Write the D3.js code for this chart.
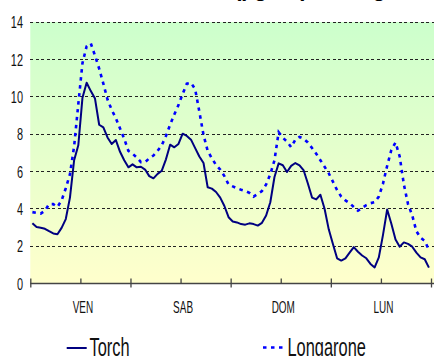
<!DOCTYPE html>
<html>
<head>
<meta charset="utf-8">
<script src="https://cdn.jsdelivr.net/npm/d3@7/dist/d3.min.js"></script>
<style>
  html, body { margin: 0; padding: 0; background: #fff; }
  svg { display: block; font-family: "Liberation Sans", Arial, sans-serif; }
</style>
</head>
<body>
<svg id="chart" width="434" height="356"></svg>
<script>
// Day labels (one per 24 h block) and value axis ticks
const days = ["VEN", "SAB", "DOM", "LUN"];
const yTicks = [0, 2, 4, 6, 8, 10, 12, 14];
const dayTicks = [0, 24, 48, 72, 96];
const halfDayTicks = [12, 36, 60, 84];

// Hourly values, 96 hours (4 days)
const torch = [
  3.22, 3.02, 2.98, 2.93, 2.80, 2.68, 2.64, 2.98, 3.45, 4.60, 6.60, 7.40,
  9.95, 10.75, 10.30, 9.90, 8.50, 8.36, 7.82, 7.47, 7.68, 7.05, 6.60, 6.22,
  6.38, 6.22, 6.25, 6.10, 5.75, 5.63, 5.87, 6.04, 6.65, 7.43, 7.29, 7.47,
  8.02, 7.90, 7.70, 7.25, 6.80, 6.45, 5.15, 5.08, 4.90, 4.60, 4.15, 3.55,
  3.32, 3.27, 3.18, 3.15, 3.22, 3.18, 3.10, 3.25, 3.64, 4.35, 5.70, 6.43,
  6.33, 5.97, 6.30, 6.45, 6.33, 6.05, 5.35, 4.60, 4.50, 4.75, 4.00, 2.90,
  2.12, 1.35, 1.23, 1.35, 1.65, 1.95, 1.70, 1.50, 1.35, 1.05, 0.86, 1.40,
  2.60, 3.96, 3.20, 2.35, 1.97, 2.20, 2.12, 1.97, 1.65, 1.40, 1.30, 0.85
];
const longarone = [
  3.82, 3.78, 3.74, 3.90, 4.25, 4.25, 4.10, 4.45, 5.10, 5.85, 7.35, 9.60,
  11.80, 12.70, 12.85, 12.20, 11.50, 10.70, 9.85, 9.30, 8.85, 8.30, 7.75, 7.10,
  6.95, 6.75, 6.50, 6.50, 6.70, 6.85, 7.10, 7.40, 7.90, 8.50, 9.05, 9.55,
  10.15, 10.70, 10.75, 10.40, 9.20, 7.95, 7.10, 6.70, 6.35, 6.10, 5.75, 5.30,
  5.20, 5.10, 5.02, 4.95, 4.85, 4.65, 4.80, 4.95, 5.30, 5.85, 6.60, 8.10,
  7.80, 7.60, 7.30, 7.70, 7.85, 7.75, 7.55, 7.25, 6.95, 6.60, 6.25, 5.90,
  5.45, 5.00, 4.65, 4.45, 4.30, 4.10, 3.90, 4.05, 4.20, 4.30, 4.35, 4.65,
  5.35, 6.30, 7.15, 7.55, 6.80, 5.30, 4.25, 3.65, 2.80, 2.45, 2.28, 1.80
];
const seriesNames = ["Torch", "Longarone"];
const titleText = "Benzene - medie orarie (µg/m³) a Longarone";

const svg = d3.select("#chart");
const W = 434;

const x = d3.scaleLinear().domain([0, 96]).range([30.3, 431]);
const y = d3.scaleLinear().domain([0, 14]).range([283.5, 22]);

// Plot background: green at the top fading to pale yellow
const defs = svg.append("defs");
const grad = defs.append("linearGradient")
  .attr("id", "bg").attr("x1", 0).attr("y1", 0).attr("x2", 0).attr("y2", 1);
grad.append("stop").attr("offset", "0%").attr("stop-color", "#ccffcc");
grad.append("stop").attr("offset", "100%").attr("stop-color", "#ffffcc");

svg.append("rect")
  .attr("x", x(0)).attr("y", y(14))
  .attr("width", W - x(0)).attr("height", y(0) - y(14))
  .attr("fill", "url(#bg)");

// Title, sitting above the top edge so that only its descenders show
const title = svg.append("text")
  .attr("y", -4.2)
  .attr("font-size", 22)
  .attr("font-weight", "bold")
  .attr("fill", "#000")
  .text(titleText);
const parenIdx = titleText.indexOf("(");
const offs = title.node().getSubStringLength(0, parenIdx);
title.attr("x", 234 - offs);

// Horizontal dashed gridlines
svg.append("g")
  .selectAll("line")
  .data(yTicks.filter(d => d > 0))
  .join("line")
  .attr("x1", x(0)).attr("x2", W)
  .attr("y1", d => y(d)).attr("y2", d => y(d))
  .attr("stroke", "#222")
  .attr("stroke-width", 1)
  .attr("stroke-dasharray", "3,2.5")
  .attr("shape-rendering", "crispEdges");

// Y axis labels
const yAxis = svg.append("g")
  .attr("transform", `translate(${x(0)},0)`)
  .call(d3.axisLeft(y).tickValues(yTicks).tickSize(0).tickFormat(d3.format("d")));
yAxis.select(".domain").remove();
yAxis.selectAll("text")
  .attr("x", 0).attr("dy", "0.36em")
  .attr("font-size", 13)
  .attr("font-family", "Liberation Sans, Arial, sans-serif")
  .attr("fill", "#111")
  .attr("transform", "translate(-7.3,0) scale(0.84,1.22)");

// X axis: baseline, day ticks crossing the line, half-day ticks inside
const y0 = y(0);
svg.append("line")
  .attr("x1", x(0)).attr("x2", W)
  .attr("y1", y0).attr("y2", y0)
  .attr("stroke", "#444").attr("stroke-width", 1.3);

const majorAxis = svg.append("g")
  .attr("transform", `translate(0,${y0})`)
  .call(d3.axisBottom(x).tickValues(dayTicks).tickSize(4).tickFormat(""));
majorAxis.select(".domain").remove();
majorAxis.selectAll(".tick line")
  .attr("y1", -5).attr("y2", 4)
  .attr("stroke", "#444").attr("stroke-width", 1.3);

const minorAxis = svg.append("g")
  .attr("transform", `translate(0,${y0})`)
  .call(d3.axisBottom(x).tickValues(halfDayTicks).tickSize(-5).tickFormat(""));
minorAxis.select(".domain").remove();
minorAxis.selectAll(".tick line").attr("stroke", "#444").attr("stroke-width", 1.3);

const labelAxis = svg.append("g")
  .attr("transform", `translate(2,${y0})`)
  .call(d3.axisBottom(x).tickValues(halfDayTicks).tickSize(0)
    .tickFormat((d, i) => days[i]));
labelAxis.select(".domain").remove();
labelAxis.selectAll("text")
  .attr("y", 0).attr("dy", 0)
  .attr("font-size", 12)
  .attr("font-family", "Liberation Sans, Arial, sans-serif")
  .attr("fill", "#111")
  .attr("transform", "translate(0,29.8) scale(0.83,1.36)");

// Series lines (values plotted at the middle of each hour)
const line = d3.line()
  .x((d, i) => x(i + 0.5))
  .y(d => y(d));

svg.append("path")
  .datum(longarone)
  .attr("d", line)
  .attr("fill", "none")
  .attr("stroke", "#0000ff")
  .attr("stroke-width", 2.6)
  .attr("stroke-dasharray", "3.5,4.5");

svg.append("path")
  .datum(torch)
  .attr("d", line)
  .attr("fill", "none")
  .attr("stroke", "#000080")
  .attr("stroke-width", 2)
  .attr("stroke-linejoin", "round");

// Legend
const legend = svg.append("g");
legend.append("line")
  .attr("x1", 66.7).attr("x2", 86.7).attr("y1", 348).attr("y2", 348)
  .attr("stroke", "#000080").attr("stroke-width", 2);
legend.append("line")
  .attr("x1", 263).attr("x2", 287).attr("y1", 347.5).attr("y2", 347.5)
  .attr("stroke", "#0000ff").attr("stroke-width", 2.6)
  .attr("stroke-dasharray", "3.5,4.5");
legend.selectAll("text")
  .data(seriesNames)
  .join("text")
  .attr("font-size", 20)
  .attr("fill", "#111")
  .attr("transform", (d, i) => `translate(${i === 0 ? 89.5 : 287.5},356) scale(0.82,1.33)`)
  .text(d => d);
</script>
</body>
</html>
